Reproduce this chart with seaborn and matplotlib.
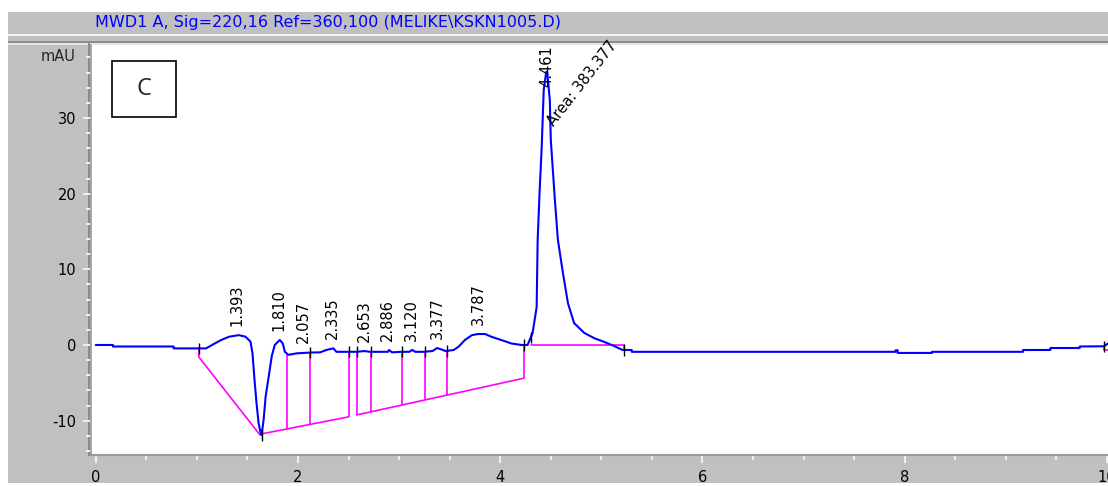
import numpy as np
import pandas as pd
import matplotlib
matplotlib.use("Agg")
import matplotlib.pyplot as plt
import matplotlib.transforms as mtransforms
from matplotlib.patches import Rectangle
import seaborn as sns

# ---------------- data ----------------
time_min = [0.00, 0.17, 0.17, 0.77, 0.77, 1.04, 1.09, 1.15, 1.24, 1.32,
            1.415, 1.48, 1.53, 1.55, 1.57, 1.59, 1.61, 1.63, 1.64, 1.66,
            1.68, 1.71, 1.74, 1.77, 1.82, 1.85, 1.87, 1.905, 1.99, 2.12,
            2.22, 2.28, 2.35, 2.38, 2.48, 2.58, 2.66, 2.71, 2.89, 2.90,
            2.93, 3.02, 3.10, 3.13, 3.16, 3.245, 3.33, 3.375, 3.42, 3.46,
            3.54, 3.59, 3.65, 3.72, 3.78, 3.85, 3.91, 4.01, 4.11, 4.21,
            4.27, 4.32, 4.36, 4.37, 4.39, 4.41, 4.43, 4.455, 4.465, 4.49,
            4.50, 4.54, 4.57, 4.62, 4.67, 4.73, 4.83, 4.93, 5.03, 5.12,
            5.21, 5.30, 5.30, 7.91, 7.91, 7.93, 7.93, 8.27, 8.27, 9.17,
            9.17, 9.44, 9.44, 9.73, 9.73, 9.97, 10.01]
signal_mau = [0.0, 0.0, -0.2, -0.2, -0.45, -0.45, -0.45, 0.0, 0.66, 1.1,
              1.3, 1.1, 0.45, -1.1, -4.6, -7.7, -10.3, -11.6, -11.9, -9.9,
              -6.8, -4.2, -1.5, 0.0, 0.66, 0.2, -0.9, -1.3, -1.1, -1.0,
              -0.97, -0.66, -0.45, -0.9, -0.9, -0.9, -0.8, -0.9, -0.9, -0.66,
              -0.97, -0.9, -0.9, -0.66, -0.9, -0.9, -0.8, -0.4, -0.6, -0.8,
              -0.66, -0.2, 0.66, 1.3, 1.45, 1.45, 1.1, 0.66, 0.2, 0.0,
              0.0, 1.6, 5.0, 13.9, 20.5, 26.2, 33.7, 36.1, 36.0, 32.4,
              27.1, 19.2, 13.9, 9.5, 5.5, 2.9, 1.6, 0.9, 0.4, -0.1,
              -0.66, -0.66, -0.9, -0.9, -0.7, -0.7, -1.05, -1.05, -0.9, -0.9,
              -0.66, -0.66, -0.4, -0.4, -0.2, -0.17, 0.2]

# integration baselines (time, mAU)
base_a_t = [1.02, 1.02, 1.625]
base_a_y = [-0.4, -1.6, -11.9]
base_b_t = [1.64, 2.50]
base_b_y = [-11.75, -9.5]
base_c_t = [2.58, 4.23]
base_c_y = [-9.25, -4.4]
base_d_t = [4.30, 5.22, 5.22]
base_d_y = [0.0, 0.0, -0.66]
base_e_t = [9.97, 9.97, 10.05]
base_e_y = [-0.2, -0.66, -0.66]

drop_b_t = [1.89, 2.12, 2.50]
drop_c_t = [2.58, 2.72, 3.03, 3.26, 3.47, 4.23]
event_t = [1.02, 1.64, 2.12, 2.50, 2.58, 2.72, 3.03, 3.26, 3.47, 4.23, 4.30, 5.22, 9.97]

peak_labels = ["1.393", "1.810", "2.057", "2.335", "2.653", "2.886",
               "3.120", "3.377", "3.787", "4.461"]
main_area_label = "Area: 383.377"
title = "MWD1 A, Sig=220,16 Ref=360,100 (MELIKE\\KSKN1005.D)"
x_ticks = [0, 2, 4, 6, 8, 10]
y_ticks = [-10, 0, 10, 20, 30]

assert len(time_min) == len(signal_mau)

# ---------------- figure ----------------
sns.set_style("ticks")
plt.rcParams["font.family"] = ["DejaVu Sans"]
plt.rcParams["axes.unicode_minus"] = False

W, H = 1108, 486
fig = plt.figure(figsize=(W / 100, H / 100), dpi=100, facecolor="white")


def fx(px):
    return px / W


def fy(py):
    return 1 - py / H


def band(x0, y0, x1, y1, color):
    fig.patches.append(Rectangle((fx(x0), fy(y1)), fx(x1) - fx(x0), (y1 - y0) / H,
                                 transform=fig.transFigure, facecolor=color,
                                 edgecolor="none", zorder=-10))


band(8, 12, 1110, 483, "#c0c0c0")
band(8, 34, 1110, 36, "#f2f2f2")
band(8, 41, 1110, 43, "#8c8c8c")
band(8, 43, 1110, 45, "#e6e6e6")
band(88, 43, 90, 456, "#8c8c8c")

fig.text(fx(95), fy(23), title, color="#0000ff", fontsize=11.5,
         ha="left", va="center")

ax = fig.add_axes([fx(91), fy(455), fx(1108) - fx(91), (455 - 45) / H])
ax.set_facecolor("white")

df = pd.DataFrame({"time": time_min, "signal": signal_mau})
sns.lineplot(data=df, x="time", y="signal", ax=ax, color="#0000ff",
             linewidth=1.5, estimator=None, sort=False, legend=False, zorder=4)

mag = "#ff00ff"
for bt, by in [(base_a_t, base_a_y), (base_b_t, base_b_y), (base_c_t, base_c_y),
               (base_d_t, base_d_y), (base_e_t, base_e_y)]:
    ax.plot(bt, by, color=mag, lw=1.2, zorder=3)

t_arr = np.array(time_min)
s_arr = np.array(signal_mau)
order = np.argsort(t_arr, kind="stable")
for dts, bt, by in [(drop_b_t, base_b_t, base_b_y), (drop_c_t, base_c_t, base_c_y)]:
    tops = np.interp(dts, t_arr[order], s_arr[order])
    bots = np.interp(dts, bt, by)
    ax.vlines(dts, bots, tops, color=mag, lw=1.2, zorder=3)

ev_y = np.interp(event_t, t_arr[order], s_arr[order])
ax.vlines(event_t, ev_y - 0.75, ev_y + 0.75, color="black", lw=1.0, zorder=5)

for lab in peak_labels:
    t = float(lab)
    win = (t_arr > t - 0.04) & (t_arr < t + 0.04)
    ytop = s_arr[win].max() if win.any() else np.interp(t, t_arr[order], s_arr[order])
    off = -2.0 if ytop > 20 else 1.25
    ax.text(t, ytop + off, lab, rotation=90, ha="center", va="bottom",
            fontsize=10.5, color="black", zorder=6)

ax.text(4.55, 28.6, main_area_label, rotation=52, rotation_mode="anchor",
        ha="left", va="bottom", fontsize=10.5, color="black", zorder=6)

# "C" panel box
ax.add_patch(Rectangle((0.16, 30.1), 0.63, 7.4, facecolor="white",
                       edgecolor="black", lw=1.2, zorder=6))
ax.text(0.475, 33.8, "C", fontsize=17, ha="center", va="center",
        family="Open Sans", zorder=7)

ax.set_xlim(-0.047, 10.01)
ax.set_ylim(-14.54, 39.65)
ax.set_xticks(x_ticks)
ax.set_yticks(y_ticks)
ax.set_xticks(np.arange(0, 10.01, 0.5), minor=True)
ax.set_yticks(np.arange(-14, 39, 2), minor=True)
ax.set_xlabel("")
ax.set_ylabel("")

for s in ["top", "right"]:
    ax.spines[s].set_visible(False)
ax.spines["left"].set_color("#9a9a9a")
ax.spines["left"].set_linewidth(1.2)
ax.spines["bottom"].set_color("#9a9a9a")
ax.spines["bottom"].set_linewidth(1.5)

ax.tick_params(axis="both", which="major", direction="out", length=6, width=1.4,
               color="#f0f0f0", labelsize=10.5, labelcolor="black", pad=4.5,
               bottom=True, left=True)
ax.tick_params(axis="both", which="minor", direction="out", length=3.5, width=1.4,
               color="#f0f0f0", bottom=True, left=True)

trans = mtransforms.blended_transform_factory(ax.transAxes, ax.transData)
ax.text(-0.0157, 38.1, "mAU", transform=trans, ha="right", va="center",
        fontsize=10.5, clip_on=False)

fig.savefig("out.png", dpi=100, facecolor="white")
